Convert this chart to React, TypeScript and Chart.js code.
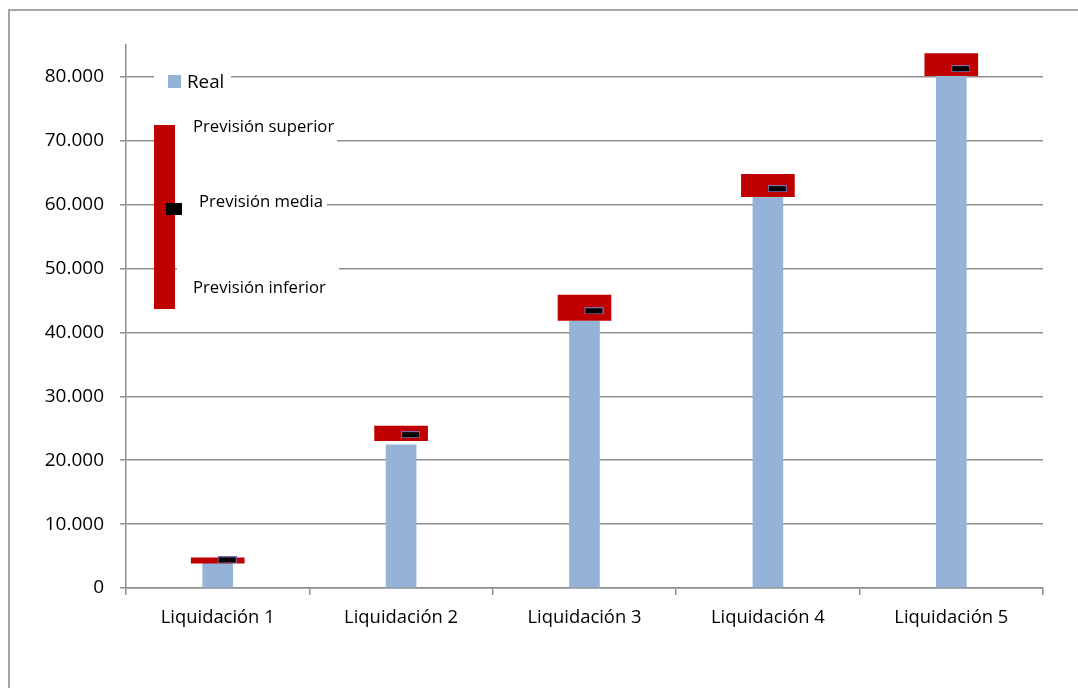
import React, { useEffect, useRef } from 'react';
import { Chart, registerables } from 'chart.js';

Chart.register(...registerables);

const categories = ['Liquidación 1', 'Liquidación 2', 'Liquidación 3', 'Liquidación 4', 'Liquidación 5'];
const realValues = [3900, 22400, 41800, 61200, 80100];
const forecastLow = [3880, 23050, 41900, 61250, 80200];
const forecastHigh = [4740, 25350, 45850, 64750, 83650];
const forecastMean = [4400, 24000, 43400, 62500, 81300];
const yMin = 0;
const yMax = 85000;
const yTickValues = [0, 10000, 20000, 30000, 40000, 50000, 60000, 70000, 80000];

const legendReal = 'Real';
const legendHigh = 'Previsión superior';
const legendMean = 'Previsión media';
const legendLow = 'Previsión inferior';

const FONT = '"Open Sans", "Noto Sans", sans-serif';
const GRID = '#8e8e8e';

function fmt(v: number): string {
  return String(Math.round(v)).replace(/\B(?=(\d{3})+(?!\d))/g, '.');
}

function makeMarker(): HTMLCanvasElement {
  const c = document.createElement('canvas');
  c.width = 38;
  c.height = 7;
  const ctx = c.getContext('2d')!;
  ctx.fillStyle = '#7d6aa8';
  ctx.fillRect(19, 0, 19, 7);
  ctx.fillStyle = '#000000';
  ctx.fillRect(20, 1, 17, 5);
  return c;
}

const overlayPlugin = {
  id: 'overlayLegend',
  afterDraw(chart: any) {
    const ctx = chart.ctx as CanvasRenderingContext2D;
    ctx.save();
    // "Real" legend
    ctx.fillStyle = '#ffffff';
    ctx.fillRect(154, 68, 77, 22);
    ctx.fillStyle = '#95b3d7';
    ctx.fillRect(168, 75, 13, 13);
    ctx.fillStyle = '#000000';
    ctx.font = `18.8px ${FONT}`;
    ctx.textBaseline = 'alphabetic';
    ctx.textAlign = 'left';
    ctx.fillText(legendReal, 187, 88);

    // explanatory forecast graphic
    ctx.fillStyle = '#ffffff';
    ctx.fillRect(175, 116, 162, 30);
    ctx.fillRect(182, 190, 145, 22);
    ctx.fillRect(177, 262, 162, 38);
    ctx.fillStyle = '#c00000';
    ctx.fillRect(154, 125, 21, 184);
    ctx.fillStyle = '#000000';
    ctx.fillRect(166, 203, 16, 12);

    ctx.font = `16.7px ${FONT}`;
    ctx.fillStyle = '#000000';
    ctx.fillText(legendHigh, 193, 132);
    ctx.fillText(legendMean, 199, 207);
    ctx.fillText(legendLow, 193, 293);
    ctx.restore();
  },
};

export default function App() {
  const ref = useRef<HTMLCanvasElement | null>(null);

  useEffect(() => {
    if (!ref.current) return;
    const marker = makeMarker();
    const chart = new Chart(ref.current, {
      type: 'bar',
      data: {
        labels: categories,
        datasets: [
          {
            type: 'line',
            label: legendMean,
            data: forecastMean,
            showLine: false,
            pointStyle: marker as any,
            pointRadius: 5,
            order: 0,
          } as any,
          {
            type: 'bar',
            label: 'Previsión',
            data: forecastLow.map((l, i) => [l, forecastHigh[i]]),
            backgroundColor: '#c00000',
            borderWidth: 0,
            barThickness: 53,
            grouped: false,
            order: 1,
          } as any,
          {
            type: 'bar',
            label: legendReal,
            data: realValues,
            backgroundColor: '#95b3d7',
            borderWidth: 0,
            barThickness: 30,
            grouped: false,
            order: 2,
          } as any,
        ],
      },
      options: {
        responsive: false,
        animation: false,
        devicePixelRatio: 1,
        layout: { padding: { left: 0, top: 45, right: 35, bottom: 0 } },
        plugins: {
          legend: { display: false },
          tooltip: { enabled: false },
          title: { display: false },
        },
        scales: {
          x: {
            offset: true,
            grid: {
              display: true,
              drawOnChartArea: false,
              drawTicks: true,
              tickLength: 7,
              color: GRID,
              lineWidth: 1.5,
              offset: true,
            },
            border: { display: true, color: GRID, width: 1.5 },
            ticks: {
              color: '#000000',
              font: { family: FONT, size: 18.4 },
              padding: 12,
              maxRotation: 0,
              autoSkip: false,
            },
            afterFit: (s: any) => {
              s.height = 100;
            },
          },
          y: {
            min: yMin,
            max: yMax,
            grid: {
              color: GRID,
              lineWidth: 1.5,
              drawTicks: true,
              tickLength: 6,
            },
            border: { display: true, color: GRID, width: 1.5 },
            ticks: {
              padding: 16,
              color: '#000000',
              font: { family: FONT, size: 19 },
              callback: (v: any) => fmt(Number(v)),
            },
            afterBuildTicks: (s: any) => {
              s.ticks = yTickValues.map((v) => ({ value: v }));
            },
            afterFit: (s: any) => {
              s.width = 126;
            },
          },
        },
      } as any,
      plugins: [overlayPlugin],
    });
    return () => chart.destroy();
  }, []);

  return (
    <div
      style={{
        position: 'fixed',
        left: 0,
        top: 0,
        width: 1078,
        height: 688,
        overflow: 'hidden',
        background: '#ffffff',
      }}
    >
      <div
        style={{
          position: 'absolute',
          left: 8,
          top: 9,
          width: 1200,
          height: 800,
          borderLeft: '2px solid #a6a6a6',
          borderTop: '2px solid #a6a6a6',
        }}
      />
      <canvas
        ref={ref}
        width={1078}
        height={688}
        style={{ position: 'absolute', left: 0, top: 0, width: 1078, height: 688 }}
      />
    </div>
  );
}
